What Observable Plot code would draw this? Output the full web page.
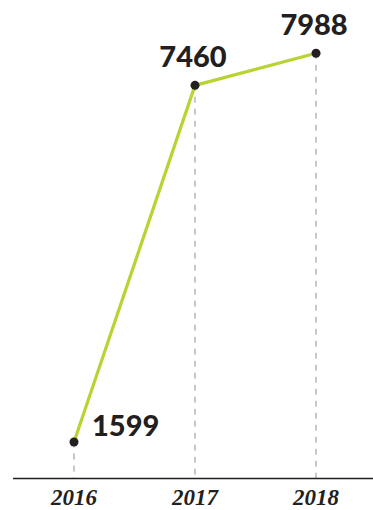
<!DOCTYPE html>
<html><head><meta charset="utf-8">
<script src="https://cdn.jsdelivr.net/npm/d3@7"></script>
<script src="https://cdn.jsdelivr.net/npm/@observablehq/plot@0.6"></script>
<style>body{margin:0;background:#fff}#c{width:373px;height:510px}</style>
</head><body><div id="c"></div>
<script>
const years = [2016, 2017, 2018];
const values = [1599, 7460, 7988];
const data = years.map((y, i) => ({year: y, value: values[i]}));
const chart = Plot.plot({
  width: 373, height: 510,
  marginTop: 52, marginBottom: 32, marginLeft: 13, marginRight: 0,
  style: {background: "#fff"},
  x: {domain: [2015.5, 2018.475], ticks: years, tickFormat: d => String(d)},
  y: {domain: [1000, 8000], axis: null},
  marks: [
    Plot.ruleX(data, {x: "year", y1: "value", y2: 1000, stroke: "#aaaaaa", strokeWidth: 1.3, strokeDasharray: "6,6"}),
    Plot.ruleY([1000], {stroke: "#231f20", strokeWidth: 1.6}),
    Plot.line(data, {x: "year", y: "value", stroke: "#b8d432", strokeWidth: 3.2}),
    Plot.dot(data, {x: "year", y: "value", r: 4.5, fill: "#231f20", stroke: "none"}),
    Plot.text(data.slice(0, 1), {x: "year", y: "value", text: d => String(d.value), textAnchor: "start", dx: 18, dy: -15, fontSize: 29, fontWeight: 900, fontFamily: "Lato", fill: "#231f20"}),
    Plot.text(data.slice(1), {x: "year", y: "value", text: d => String(d.value), textAnchor: "middle", dx: -2, dy: -28, fontSize: 29, fontWeight: 900, fontFamily: "Lato", fill: "#231f20"}),
    Plot.axisX({ticks: years, tickFormat: d => String(d), tickSize: 0, tickPadding: 10, fontSize: 23, fontFamily: "Liberation Serif", fontStyle: "italic", fontWeight: "bold", fill: "#231f20", label: null})
  ]
});
document.getElementById("c").appendChild(chart);
</script></body></html>
